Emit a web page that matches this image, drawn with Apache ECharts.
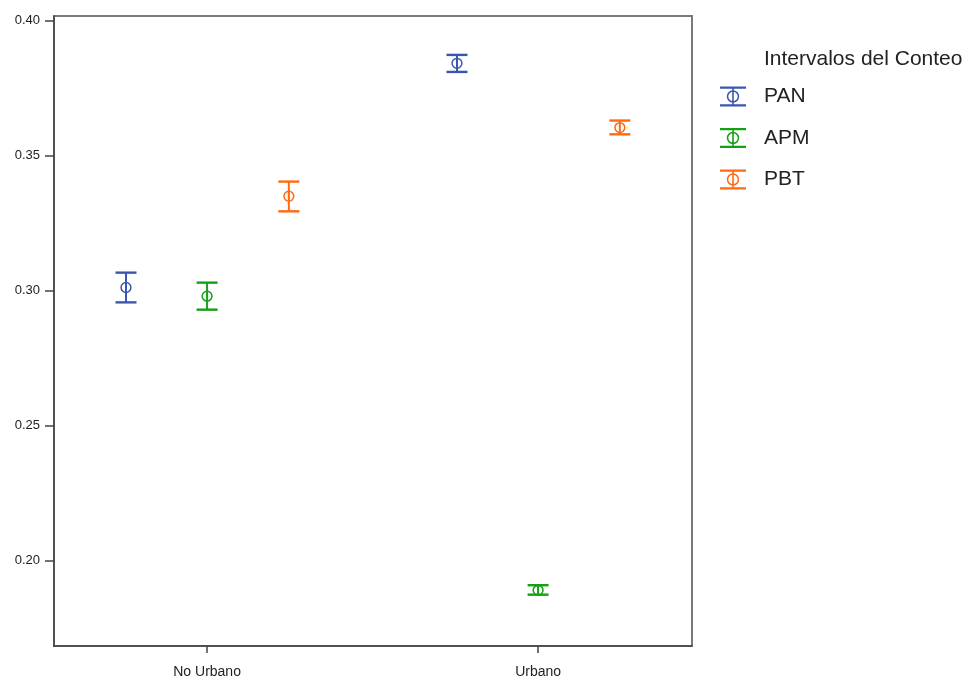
<!DOCTYPE html>
<html>
<head>
<meta charset="utf-8">
<script src="https://cdn.jsdelivr.net/npm/echarts@6/dist/echarts.min.js"></script>
<style>
html,body{margin:0;padding:0;background:#fff;}
#chart{width:964px;height:677px;}
</style>
</head>
<body>
<div id="chart"></div>
<script>
const categories = ['No Urbano', 'Urbano'];
const seriesNames = ['PAN', 'APM', 'PBT'];
const yTicks = [0.20, 0.25, 0.30, 0.35, 0.40];

const panMean = [0.3012, 0.3842];
const panLow  = [0.2957, 0.3810];
const panHigh = [0.3067, 0.3873];

const apmMean = [0.2980, 0.1891];
const apmLow  = [0.2930, 0.1875];
const apmHigh = [0.3030, 0.1910];

const pbtMean = [0.3350, 0.3604];
const pbtLow  = [0.3294, 0.3579];
const pbtHigh = [0.3404, 0.3630];

const colors = ['#3b56b0', '#16a016', '#ff6a10'];
const clusterOffsets = [-0.245, 0, 0.247];

const seriesData = [
  [panMean, panLow, panHigh],
  [apmMean, apmLow, apmHigh],
  [pbtMean, pbtLow, pbtHigh]
];

const iconPath = 'path://M0 0L26 0L26 2.2L0 2.2Z M0 17.8L26 17.8L26 20L0 20Z M12.2 0L13.8 0L13.8 20L12.2 20Z M13 3.8A6.2 6.2 0 1 1 12.99 3.8Z M13 5.3A4.7 4.7 0 1 0 13.01 5.3Z';

function renderItem(params, api) {
  const x = api.value(0);
  const c = api.coord([x, api.value(1)]);
  const lo = api.coord([x, api.value(2)]);
  const hi = api.coord([x, api.value(3)]);
  const color = api.visual('color');
  const hw = 10.5;
  return {
    type: 'group',
    children: [
      { type: 'line', shape: { x1: c[0], y1: hi[1], x2: c[0], y2: lo[1] }, style: { stroke: color, lineWidth: 2 } },
      { type: 'line', shape: { x1: c[0] - hw, y1: hi[1], x2: c[0] + hw, y2: hi[1] }, style: { stroke: color, lineWidth: 2.4 } },
      { type: 'line', shape: { x1: c[0] - hw, y1: lo[1], x2: c[0] + hw, y2: lo[1] }, style: { stroke: color, lineWidth: 2.4 } },
      { type: 'circle', shape: { cx: c[0], cy: c[1], r: 4.9 }, style: { stroke: color, fill: null, lineWidth: 1.5 } }
    ]
  };
}

const series = seriesNames.map(function (name, s) {
  const d = categories.map(function (cat, i) {
    return [i + clusterOffsets[s], seriesData[s][0][i], seriesData[s][1][i], seriesData[s][2][i]];
  });
  return {
    name: name,
    type: 'custom',
    renderItem: renderItem,
    itemStyle: { color: colors[s] },
    encode: { x: 0, y: [1, 2, 3] },
    data: d
  };
});

const chart = echarts.init(document.getElementById('chart'), null, { renderer: 'canvas' });
chart.setOption({
  animation: false,
  backgroundColor: '#ffffff',
  color: colors,
  title: {
    text: 'Intervalos del Conteo',
    left: 759,
    top: 44,
    textStyle: { fontFamily: 'Liberation Sans, Arial, sans-serif', fontSize: 21, fontWeight: 'normal', color: '#222' }
  },
  legend: {
    orient: 'vertical',
    left: 715,
    top: 81,
    itemWidth: 26,
    itemHeight: 20,
    itemGap: 20.5,
    data: seriesNames.map(function (n) { return { name: n, icon: iconPath }; }),
    textStyle: { fontFamily: 'Liberation Sans, Arial, sans-serif', fontSize: 21, color: '#222', padding: [0, 0, 0, 13] }
  },
  grid: {
    left: 54,
    right: 272,
    top: 16,
    bottom: 31,
    containLabel: false,
    outerBoundsMode: 'none',
    show: true,
    borderColor: '#7a7a7a',
    borderWidth: 2,
    backgroundColor: '#fff'
  },
  xAxis: {
    type: 'value',
    min: -0.4625,
    max: 1.465,
    splitLine: { show: false },
    axisLine: { show: true, onZero: false, lineStyle: { color: '#444', width: 1.5 } },
    axisTick: { show: true, length: 7, customValues: [0, 1], lineStyle: { color: '#444', width: 1.5 } },
    axisLabel: {
      customValues: [0, 1],
      margin: 19,
      fontFamily: 'Liberation Sans, Arial, sans-serif',
      fontSize: 14,
      color: '#222',
      formatter: function (v) { return categories[Math.round(v)]; }
    }
  },
  yAxis: {
    type: 'value',
    min: 0.1685,
    max: 0.4017,
    splitLine: { show: false },
    axisLine: { show: true, onZero: false, lineStyle: { color: '#444', width: 1.5 } },
    axisTick: { show: true, length: 9, customValues: yTicks, lineStyle: { color: '#444', width: 1.5 } },
    axisLabel: {
      customValues: yTicks,
      margin: 14,
      fontFamily: 'Liberation Sans, Arial, sans-serif',
      fontSize: 13,
      color: '#222',
      formatter: function (v) { return v.toFixed(2); }
    }
  },
  series: series
});
</script>
</body>
</html>
